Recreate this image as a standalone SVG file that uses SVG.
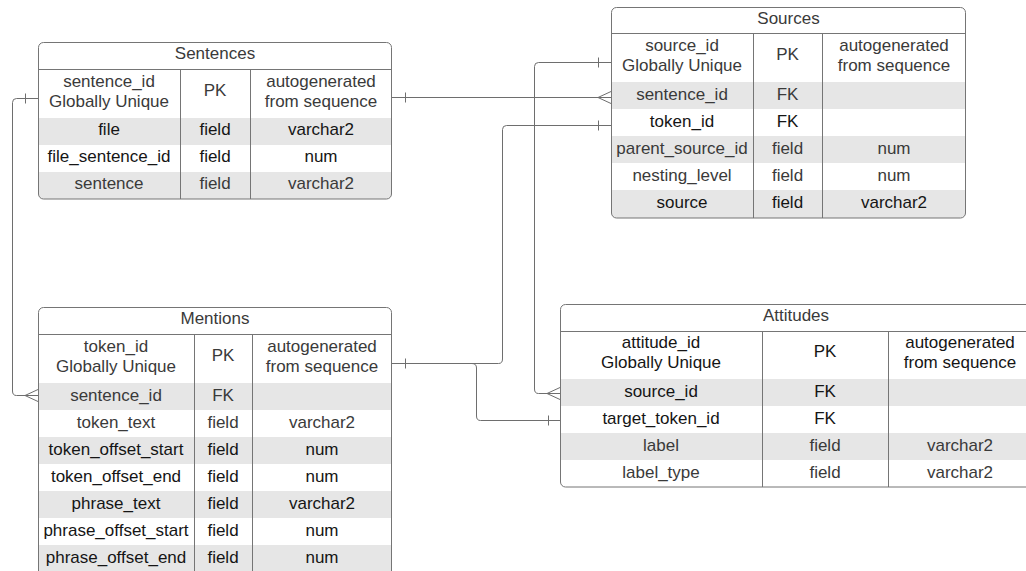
<svg xmlns="http://www.w3.org/2000/svg" width="1026" height="571" viewBox="0 0 1026 571">
<style>
.bg{fill:#ffffff}
.box{fill:none;stroke:#757575;stroke-width:1}
.body{fill:#ffffff}
.row{fill:#e6e6e6}
.ln{stroke:#757575;stroke-width:1;fill:none}
.conn{stroke:#6e6e6e;stroke-width:1;fill:none}
text{font-family:"Liberation Sans",Arial,Helvetica,sans-serif;font-size:17px;text-anchor:middle;fill:#3a3a3a}
.dk{fill:#151515}
</style>
<defs>
<clipPath id="cS"><rect x="38.5" y="42.5" width="353" height="156.5" rx="5"/></clipPath>
<clipPath id="cR"><rect x="611.5" y="7.5" width="354" height="210.5" rx="5"/></clipPath>
<clipPath id="cM"><rect x="38.5" y="307.5" width="353" height="270" rx="5"/></clipPath>
<clipPath id="cA"><rect x="560.5" y="304.5" width="472" height="182.5" rx="5"/></clipPath>
</defs>
<rect class="bg" x="0" y="0" width="1026" height="571"/>

<g id="connectors">
<!-- Sentences PK -> Mentions sentence_id -->
<path class="conn" d="M38,98.5 H16.5 Q12.5,98.5 12.5,102.5 V391 Q12.5,395.5 16.5,395.5 H38"/>
<path class="conn" d="M25.5,93.5 V103.5"/>
<path class="conn" d="M38,389.5 L25,395.5 L38,401.5"/>
<!-- Sentences PK -> Sources sentence_id -->
<path class="conn" d="M392,97.5 H611"/>
<path class="conn" d="M405.5,92.5 V102.5"/>
<path class="conn" d="M611,91.5 L598,97.5 L611,103.5"/>
<!-- Sources PK -> Attitudes source_id -->
<path class="conn" d="M611,62.5 H538.5 Q534.5,62.5 534.5,66.5 V389 Q534.5,393.5 538.5,393.5 H560"/>
<path class="conn" d="M598.5,57.5 V67.5"/>
<path class="conn" d="M560,387.5 L547,393.5 L560,399.5"/>
<!-- Sources token_id -> Mentions PK -->
<path class="conn" d="M611,125.5 H506.5 Q502.5,125.5 502.5,129.5 V359 Q502.5,363.5 498.5,363.5 H392"/>
<path class="conn" d="M598.5,120.5 V130.5"/>
<path class="conn" d="M405.5,358.5 V368.5"/>
<!-- Mentions PK -> Attitudes target_token_id -->
<path class="conn" d="M392,363.5 H472 Q476.5,363.5 476.5,368 V416 Q476.5,420.5 480.5,420.5 H560"/>
<path class="conn" d="M548.5,415.5 V425.5"/>
</g>

<g id="sentences">
<g clip-path="url(#cS)">
<rect class="body" x="38" y="42" width="354" height="158"/>
<rect class="row" x="38" y="118" width="354" height="27"/>
<rect class="row" x="38" y="172" width="354" height="28"/>
</g>
<path class="ln" d="M38.5,69.5 H391.5 M180.5,69.5 V199 M250.5,69.5 V199"/>
<rect class="box" x="38.5" y="42.5" width="353" height="156.5" rx="5"/>
<text x="215" y="59">Sentences</text>
<text x="109" y="86.5">sentence_id</text>
<text x="109" y="106.5">Globally Unique</text>
<text x="215" y="96">PK</text>
<text x="321" y="86.5">autogenerated</text>
<text x="321" y="106.5">from sequence</text>
<text class="dk" x="109" y="135">file</text>
<text class="dk" x="215" y="135">field</text>
<text class="dk" x="321" y="135">varchar2</text>
<text class="dk" x="109" y="162">file_sentence_id</text>
<text class="dk" x="215" y="162">field</text>
<text class="dk" x="321" y="162">num</text>
<text x="109" y="189">sentence</text>
<text x="215" y="189">field</text>
<text x="321" y="189">varchar2</text>
</g>

<g id="sources">
<g clip-path="url(#cR)">
<rect class="body" x="611" y="7" width="356" height="212"/>
<rect class="row" x="611" y="82" width="356" height="27"/>
<rect class="row" x="611" y="136" width="356" height="27"/>
<rect class="row" x="611" y="190" width="356" height="29"/>
</g>
<path class="ln" d="M611.5,33.5 H965.5 M753.5,33.5 V218 M822.5,33.5 V218"/>
<rect class="box" x="611.5" y="7.5" width="354" height="210.5" rx="5"/>
<text x="788.5" y="23.5">Sources</text>
<text x="682" y="50.5">source_id</text>
<text x="682" y="70.5">Globally Unique</text>
<text x="787.5" y="60">PK</text>
<text x="894" y="50.5">autogenerated</text>
<text x="894" y="70.5">from sequence</text>
<text x="682" y="99.5">sentence_id</text>
<text x="787.5" y="99.5">FK</text>
<text class="dk" x="682" y="126.5">token_id</text>
<text class="dk" x="787.5" y="126.5">FK</text>
<text x="682" y="153.5">parent_source_id</text>
<text x="787.5" y="153.5">field</text>
<text x="894" y="153.5">num</text>
<text x="682" y="180.5">nesting_level</text>
<text x="787.5" y="180.5">field</text>
<text x="894" y="180.5">num</text>
<text class="dk" x="682" y="208">source</text>
<text class="dk" x="787.5" y="208">field</text>
<text class="dk" x="894" y="208">varchar2</text>
</g>

<g id="mentions">
<g clip-path="url(#cM)">
<rect class="body" x="38" y="307" width="354" height="272"/>
<rect class="row" x="38" y="383" width="354" height="27"/>
<rect class="row" x="38" y="437" width="354" height="27"/>
<rect class="row" x="38" y="491" width="354" height="27"/>
<rect class="row" x="38" y="545" width="354" height="34"/>
</g>
<path class="ln" d="M38.5,334.5 H391.5 M194.5,334.5 V578 M252.5,334.5 V578"/>
<rect class="box" x="38.5" y="307.5" width="353" height="270" rx="5"/>
<text x="215" y="324">Mentions</text>
<text x="116" y="351.5">token_id</text>
<text x="116" y="371.5">Globally Unique</text>
<text x="223" y="361">PK</text>
<text x="322" y="351.5">autogenerated</text>
<text x="322" y="371.5">from sequence</text>
<text x="116" y="400.5">sentence_id</text>
<text x="223" y="400.5">FK</text>
<text x="116" y="427.5">token_text</text>
<text x="223" y="427.5">field</text>
<text x="322" y="427.5">varchar2</text>
<text class="dk" x="116" y="454.5">token_offset_start</text>
<text class="dk" x="223" y="454.5">field</text>
<text class="dk" x="322" y="454.5">num</text>
<text class="dk" x="116" y="481.5">token_offset_end</text>
<text class="dk" x="223" y="481.5">field</text>
<text class="dk" x="322" y="481.5">num</text>
<text class="dk" x="116" y="508.5">phrase_text</text>
<text class="dk" x="223" y="508.5">field</text>
<text class="dk" x="322" y="508.5">varchar2</text>
<text class="dk" x="116" y="535.5">phrase_offset_start</text>
<text class="dk" x="223" y="535.5">field</text>
<text class="dk" x="322" y="535.5">num</text>
<text class="dk" x="116" y="562.5">phrase_offset_end</text>
<text class="dk" x="223" y="562.5">field</text>
<text class="dk" x="322" y="562.5">num</text>
</g>

<g id="attitudes">
<g clip-path="url(#cA)">
<rect class="body" x="560" y="304" width="474" height="184"/>
<rect class="row" x="560" y="379" width="474" height="27"/>
<rect class="row" x="560" y="433" width="474" height="27"/>
</g>
<path class="ln" d="M560.5,331.5 H1032 M762.5,331.5 V487 M888.5,331.5 V487"/>
<rect class="box" x="560.5" y="304.5" width="472" height="182.5" rx="5"/>
<text x="796" y="320.5">Attitudes</text>
<text class="dk" x="661" y="348">attitude_id</text>
<text class="dk" x="661" y="368">Globally Unique</text>
<text class="dk" x="825" y="357">PK</text>
<text class="dk" x="960" y="348">autogenerated</text>
<text class="dk" x="960" y="368">from sequence</text>
<text class="dk" x="661" y="396.5">source_id</text>
<text class="dk" x="825" y="396.5">FK</text>
<text class="dk" x="661" y="423.5">target_token_id</text>
<text class="dk" x="825" y="423.5">FK</text>
<text x="661" y="450.5">label</text>
<text x="825" y="450.5">field</text>
<text x="960" y="450.5">varchar2</text>
<text x="661" y="477.5">label_type</text>
<text x="825" y="477.5">field</text>
<text x="960" y="477.5">varchar2</text>
</g>
</svg>
